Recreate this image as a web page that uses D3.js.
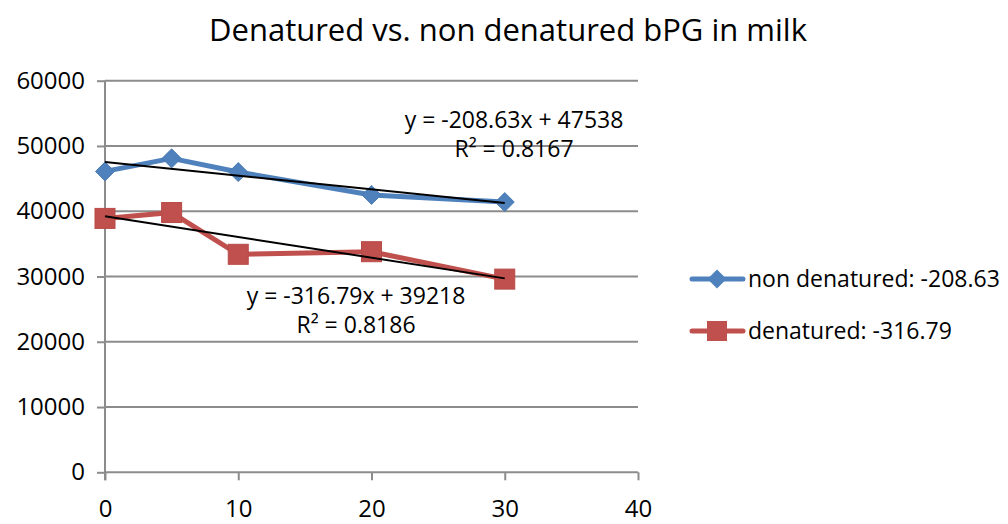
<!DOCTYPE html>
<html>
<head>
<meta charset="utf-8">
<script src="https://cdn.jsdelivr.net/npm/d3@7"></script>
<style>
  html, body { margin: 0; padding: 0; background: #fff; }
  svg text { font-family: "Open Sans", "Liberation Sans", sans-serif; fill: #000; }
</style>
</head>
<body>
<svg id="chart" width="1008" height="524"></svg>
<script>
// Sample times (x) and measured bPG levels for each treatment
const times = [0, 5, 10, 20, 30];
const nonDenatured = [46100, 48100, 46000, 42500, 41400];
const denatured = [38900, 39800, 33400, 33800, 29600];

// Linear trend fits (slope, intercept, R²)
const fitNon = { slope: -208.63, intercept: 47538, r2: 0.8167 };
const fitDen = { slope: -316.79, intercept: 39218, r2: 0.8186 };

const xTicks = [0, 10, 20, 30, 40];
const yTicks = [0, 10000, 20000, 30000, 40000, 50000, 60000];

const titleText = "Denatured vs. non denatured bPG in milk";
const legendLabels = ["non denatured: -208.63", "denatured: -316.79"];

const BLUE = "#4F81BD", RED = "#C0504D", GRID = "#8c8c8c";

const svg = d3.select("#chart");
const x = d3.scaleLinear().domain([0, 40]).range([105, 638]);
const y = d3.scaleLinear().domain([0, 60000]).range([472.3, 80.7]);

// Title
svg.append("text")
  .attr("x", 508).attr("y", 41)
  .attr("text-anchor", "middle")
  .style("font-size", "31px")
  .text(titleText);

// Left ticks and labels
const yAxis = d3.axisLeft(y).tickValues(yTicks).tickSize(8).tickPadding(12).tickFormat(d3.format("d"));
const gy = svg.append("g").attr("transform", `translate(${x(0)},0)`).call(yAxis);
gy.select(".domain").remove();
gy.selectAll(".tick line").attr("stroke", GRID).attr("stroke-width", 2);
gy.selectAll(".tick text").style("font-size", "24px").style("font-family", "'Open Sans', sans-serif").attr("fill", "#000");

// Horizontal gridlines
svg.append("g").selectAll("line").data(yTicks).join("line")
  .attr("x1", x(0)).attr("x2", x(40))
  .attr("y1", d => y(d)).attr("y2", d => y(d))
  .attr("stroke", GRID).attr("stroke-width", 2);

// Vertical axis line
svg.append("line")
  .attr("x1", x(0)).attr("x2", x(0))
  .attr("y1", y(60000)).attr("y2", y(0) + 8)
  .attr("stroke", GRID).attr("stroke-width", 2);

// Bottom axis ticks and labels
const xAxis = d3.axisBottom(x).tickValues(xTicks).tickSize(8).tickPadding(20).tickFormat(d3.format("d"));
const gx = svg.append("g").attr("transform", `translate(0,${y(0)})`).call(xAxis);
gx.select(".domain").remove();
gx.selectAll(".tick line").attr("stroke", GRID).attr("stroke-width", 2);
gx.selectAll(".tick text").style("font-size", "24px").style("font-family", "'Open Sans', sans-serif").attr("fill", "#000");

// Series lines
const line = d3.line().x((d, i) => x(times[i])).y(d => y(d));
svg.append("path").datum(nonDenatured).attr("d", line)
  .attr("fill", "none").attr("stroke", BLUE).attr("stroke-width", 5).attr("stroke-linejoin", "round");
svg.append("path").datum(denatured).attr("d", line)
  .attr("fill", "none").attr("stroke", RED).attr("stroke-width", 5).attr("stroke-linejoin", "round");

// Markers
const diamond = d3.symbol().type(d3.symbolDiamond2).size(230);
svg.append("g").selectAll("path").data(nonDenatured).join("path")
  .attr("d", diamond)
  .attr("transform", (d, i) => `translate(${x(times[i])},${y(d)})`)
  .attr("fill", BLUE).attr("stroke", "#4a7ab3").attr("stroke-width", 1);
svg.append("g").selectAll("rect").data(denatured).join("rect")
  .attr("x", (d, i) => x(times[i]) - 10).attr("y", d => y(d) - 10)
  .attr("width", 20).attr("height", 20)
  .attr("fill", RED).attr("stroke", "#b84a47").attr("stroke-width", 1);

// Trend lines from the fitted equations, spanning the sampled range
[fitNon, fitDen].forEach(f => {
  const x0 = d3.min(times), x1 = d3.max(times);
  svg.append("line")
    .attr("x1", x(x0)).attr("y1", y(f.intercept + f.slope * x0))
    .attr("x2", x(x1)).attr("y2", y(f.intercept + f.slope * x1))
    .attr("stroke", "#000").attr("stroke-width", 2);
});

// Trend equation labels
function eqLabel(f, cx, cy) {
  const g = svg.append("g").style("font-size", "23px");
  g.append("text").attr("x", cx).attr("y", cy).attr("text-anchor", "middle")
    .text(`y = ${f.slope}x + ${f.intercept}`);
  g.append("text").attr("x", cx).attr("y", cy + 29).attr("text-anchor", "middle")
    .text(`R² = ${f.r2}`);
}
eqLabel(fitNon, 514, 128);
eqLabel(fitDen, 356, 304);

// Legend
const legend = svg.append("g");
legendLabels.forEach((lab, i) => {
  const ly = 279 + i * 52;
  const color = i === 0 ? BLUE : RED;
  legend.append("line").attr("x1", 692).attr("x2", 743).attr("y1", ly).attr("y2", ly)
    .attr("stroke", color).attr("stroke-width", 5).attr("stroke-linecap", "round");
  if (i === 0) {
    legend.append("path").attr("d", diamond).attr("transform", `translate(717,${ly})`).attr("fill", color);
  } else {
    legend.append("rect").attr("x", 707).attr("y", ly - 10).attr("width", 20).attr("height", 20).attr("fill", color);
  }
  legend.append("text").attr("x", 748).attr("y", ly + 8).style("font-size", "23px").text(lab);
});
</script>
</body>
</html>
